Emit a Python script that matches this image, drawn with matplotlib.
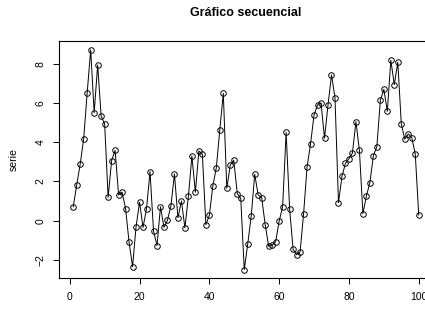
import numpy as np
import matplotlib
matplotlib.use('Agg')
import matplotlib.pyplot as plt

plt.rcParams['font.family'] = ['Liberation Sans', 'DejaVu Sans']

# serie observada, t = 1..100
serie = [0.71, 1.82, 2.89, 4.18, 6.52, 8.70, 5.50, 7.93, 5.32, 4.93,
         1.19, 3.06, 3.58, 1.31, 1.45, 0.61, -1.10, -2.34, -0.31, 0.94,
         -0.34, 0.61, 2.50, -0.51, -1.27, 0.71, -0.34, 0.02, 0.77, 2.38,
         0.15, 1.00, -0.36, 1.24, 3.30, 1.45, 3.55, 3.38, -0.20, 0.27,
         1.77, 2.70, 4.64, 6.49, 1.65, 2.84, 3.08, 1.38, 1.14, -2.49,
         -1.19, 0.24, 2.36, 1.31, 1.17, -0.20, -1.31, -1.24, -1.07, -0.02,
         0.71, 4.50, 0.61, -1.46, -1.73, -1.59, 0.34, 2.74, 3.92, 5.38,
         5.89, 6.00, 4.20, 5.89, 7.42, 6.27, 0.92, 2.26, 2.92, 3.16,
         3.45, 5.04, 3.58, 0.36, 1.26, 1.94, 3.31, 3.77, 6.13, 6.69,
         5.57, 8.17, 6.93, 8.07, 4.93, 4.15, 4.42, 4.23, 3.40, 0.29]
t = np.arange(1, len(serie) + 1)

xticks = [0, 20, 40, 60, 80, 100]
yticks = [-2, 0, 2, 4, 6, 8]

fig = plt.figure(figsize=(4.25, 3.26), dpi=100)
# plot region runs past the right edge of the figure
ax = fig.add_axes([0.1398, 0.146, 0.878, 0.728])

ax.plot(t, serie, color='black', linewidth=0.7, marker='o', markersize=4,
        markerfacecolor='none', markeredgecolor='black', markeredgewidth=0.7)

# R-style 4% padding on both axes
xr = t.max() - t.min()
ax.set_xlim(t.min() - 0.04 * xr, t.max() + 0.04 * xr)
yr = max(serie) - min(serie)
ax.set_ylim(min(serie) - 0.04 * yr, max(serie) + 0.04 * yr)

ax.set_xticks(xticks)
ax.set_yticks(yticks)
ax.set_yticklabels(['\u22122' if v < 0 else str(v) for v in yticks],
                   rotation=90, va='center')
ax.tick_params(axis='both', direction='out', length=4, width=0.7,
               labelsize=7.5, pad=6)
for s in ax.spines.values():
    s.set_linewidth(0.8)

ax.set_title('Gráfico secuencial', fontsize=9, fontweight='bold', pad=18)
ax.set_xlabel('t', fontsize=7.5, labelpad=17)
ax.set_ylabel('serie', fontsize=7.5, labelpad=12)

fig.savefig('out.png', dpi=100)
